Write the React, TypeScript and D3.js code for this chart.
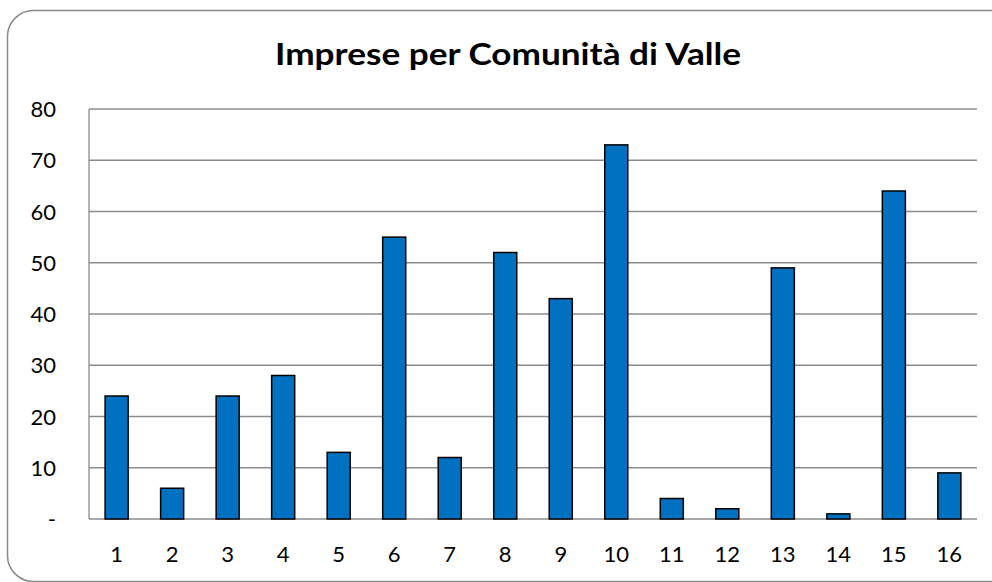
import React from "react";
import * as d3 from "d3";

const title = "Imprese per Comunità di Valle";
const categories = ["1","2","3","4","5","6","7","8","9","10","11","12","13","14","15","16"];
const values = [24, 6, 24, 28, 13, 55, 12, 52, 43, 73, 4, 2, 49, 1, 64, 9];
const yTicks = [0, 10, 20, 30, 40, 50, 60, 70, 80];

const W = 992, H = 582;
const left = 89, right = 977, top = 109, bottom = 519;
const FONT = "Lato, 'Open Sans', 'Liberation Sans', sans-serif";

export default function App() {
  const x = d3.scaleBand<string>().domain(categories).range([left, right]).paddingInner(0.585).paddingOuter(0.29);
  const y = d3.scaleLinear().domain([0, 80]).range([bottom, top]);
  return (
    <svg width={W} height={H} style={{ position: "absolute", left: 0, top: 0 }} xmlns="http://www.w3.org/2000/svg">
      <rect x={0} y={0} width={W} height={H} fill="#fff" />
      <rect x={7.5} y={10.5} width={1010} height={571} rx={26} ry={26} fill="#fff" stroke="#8a8a8a" strokeWidth={1.5} />
      <text x={508} y={65} textAnchor="middle" fontFamily={FONT} fontWeight="bold" fontSize={30} textLength={466} lengthAdjust="spacingAndGlyphs" fill="#000">{title}</text>
      {yTicks.map(t => (
        <line key={"g" + t} x1={left} x2={right} y1={y(t)} y2={y(t)} stroke="#8c8c8c" strokeWidth={1.3} />
      ))}
      <line x1={left} x2={left} y1={top} y2={bottom} stroke="#8c8c8c" strokeWidth={1.3} />
      {yTicks.map(t => (
        <text key={"t" + t} x={56} y={y(t) + 8} textAnchor="end" fontFamily={FONT} fontSize={22} fill="#000">{t === 0 ? "-" : t}</text>
      ))}
      {categories.map((c, i) => (
        <rect key={c} x={x(c)!} y={y(values[i])} width={x.bandwidth()} height={y(0) - y(values[i])} fill="#0070C0" stroke="#000" strokeWidth={1.5} />
      ))}
      {categories.map(c => (
        <text key={"x" + c} x={x(c)! + x.bandwidth() / 2} y={562} textAnchor="middle" fontFamily={FONT} fontSize={22} fill="#000">{c}</text>
      ))}
    </svg>
  );
}
